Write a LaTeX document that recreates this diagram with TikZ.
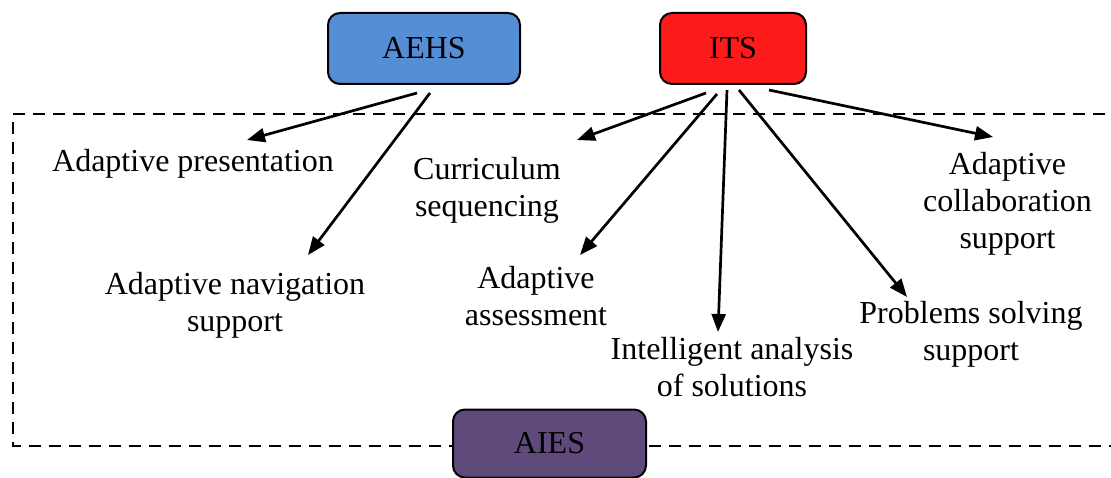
\documentclass[tikz,border=0pt]{standalone}
\usepackage{fontspec}
\setmainfont{Liberation Serif}
\usetikzlibrary{arrows.meta}
\definecolor{aehsblue}{HTML}{558ED5}
\definecolor{itsred}{HTML}{FC1A1A}
\definecolor{aiespurple}{HTML}{604A7B}
\begin{document}
\begin{tikzpicture}[x=1pt,y=-1pt,
  sysbox/.style={draw=black,line width=2pt,rounded corners=12pt,minimum width=192pt,minimum height=71pt,inner sep=0pt,font=\fontsize{32}{37}\selectfont},
  lbl/.style={align=center,inner sep=0pt,font=\fontsize{32}{37}\selectfont},
  arr/.style={line width=2.7pt,-{Triangle[length=18pt,width=14pt]}},
  frame/.style={line width=2.6pt,dash pattern=on 12pt off 8pt}]
\useasboundingbox (0,0) rectangle (1111,478);
% dashed frame (right side lies beyond the picture)
\draw[frame] (1125,114) -- (13,114) -- (13,446) -- (1125,446);
% boxes
\node[sysbox,fill=aehsblue] (aehs) at (424,48.5) {AEHS};
\node[sysbox,fill=itsred,minimum width=146pt] (its) at (733,48.5) {ITS};
\node[sysbox,fill=aiespurple,minimum width=193pt,minimum height=68pt] (aies) at (549.5,443.5) {AIES};
% labels
\node[lbl] (pres) at (193,164) {Adaptive presentation};
\node[lbl] (nav) at (235,305) {Adaptive navigation\\support};
\node[lbl] (curr) at (487,190) {Curriculum\\sequencing};
\node[lbl] (assess) at (536,296) {Adaptive\\assessment};
\node[lbl] (intel) at (732,367) {Intelligent analysis\\of solutions};
\node[lbl] (collab) at (1007.5,204) {Adaptive\\collaboration\\support};
\node[lbl] (prob) at (971,334) {Problems solving\\support};
% arrow tips
\coordinate (tpres) at (247,140);
\coordinate (tnav) at (308,255);
\coordinate (tcurr) at (577,140);
\coordinate (tassess) at (580,255);
\coordinate (tintel) at (718,332);
\coordinate (tprob) at (907,297);
\coordinate (tcollab) at (993,137);
% arrows
\draw[arr] ([shift={(-7,8)}]aehs.south) -- (tpres);
\draw[arr] ([shift={(6,8)}]aehs.south) -- (tnav);
\draw[arr] ([shift={(-27,8)}]its.south) -- (tcurr);
\draw[arr] ([shift={(-16,9)}]its.south) -- (tassess);
\draw[arr] ([shift={(-6,5)}]its.south) -- (tintel);
\draw[arr] ([shift={(6,5)}]its.south) -- (tprob);
\draw[arr] ([shift={(36,5)}]its.south) -- (tcollab);
\end{tikzpicture}
\end{document}
